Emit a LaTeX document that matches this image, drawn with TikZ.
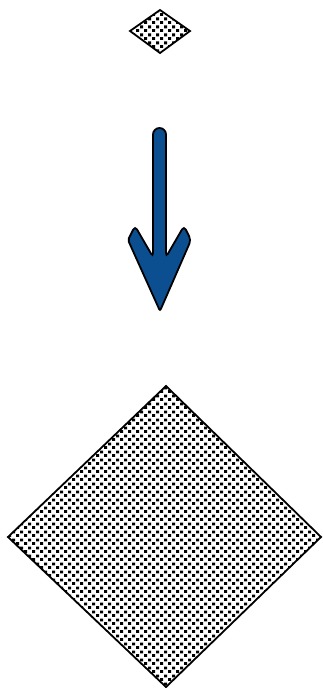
\documentclass[tikz,border=0pt]{standalone}
\usetikzlibrary{patterns.meta}
\definecolor{arrowblue}{RGB}{11,79,145}
\pgfdeclarepattern{
  name=confetti,
  type=uncolored,
  bottom left={\pgfpoint{0pt}{0pt}},
  top right={\pgfpoint{8pt}{8pt}},
  tile size={\pgfpoint{8pt}{8pt}},
  code={
    \pgfpathrectangle{\pgfpoint{0pt}{0pt}}{\pgfpoint{3.4pt}{3.2pt}}
    \pgfpathrectangle{\pgfpoint{4.5pt}{4pt}}{\pgfpoint{3.4pt}{3.2pt}}
    \pgfusepath{fill}
  }
}
\tikzset{
  dia/.style={draw=black, line width=1.8pt, line join=miter, fill=white,
    postaction={pattern=confetti, pattern color=black}},
  fatarrow/.style={draw=black, line width=1.8pt, fill=arrowblue, rounded corners=4pt}
}
\begin{document}
\begin{tikzpicture}[x=1pt,y=-1pt]
\useasboundingbox (0,0) rectangle (322,688);
% small diamond
\path[dia] (160,10) coordinate (s1) -- (190,31) coordinate (s2) -- (160,53) coordinate (s3) -- (130,31) coordinate (s4) -- cycle;
% arrow
\path[fatarrow] (153,257) [rounded corners=6.5pt] -- (153,128) -- (166,128) [rounded corners=4pt] -- (166,257) -- (184,226) -- (191,240) [rounded corners=2pt] -- (160,311) -- (128,240) [rounded corners=4pt] -- (135,226) -- cycle;
% large diamond
\path[dia] (166,386) coordinate (b1) -- (321,537) coordinate (b2) -- (166,687) coordinate (b3) -- (8,537) coordinate (b4) -- cycle;
\end{tikzpicture}
\end{document}
